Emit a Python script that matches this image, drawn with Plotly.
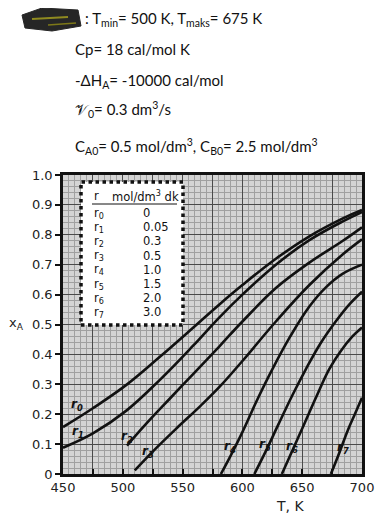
import plotly.graph_objects as go

# ---------------- data ----------------
T_r0 = [450, 475, 503, 531, 559, 581, 600, 628, 656, 684, 700]
x_r0 = [0.157, 0.22, 0.298, 0.392, 0.49, 0.568, 0.632, 0.72, 0.795, 0.855, 0.883]
T_r1 = [450, 475, 503, 531, 559, 581, 600, 628, 656, 684, 700]
x_r1 = [0.088, 0.136, 0.212, 0.315, 0.43, 0.525, 0.60, 0.70, 0.782, 0.845, 0.876]
T_r2 = [503.5, 520, 540, 559, 581, 600, 628, 656, 684, 700]
x_r2 = [0.095, 0.17, 0.255, 0.335, 0.428, 0.51, 0.622, 0.707, 0.78, 0.825]
T_r3 = [510, 525, 545, 565, 581, 600, 628, 656, 684, 700]
x_r3 = [0.012, 0.075, 0.153, 0.228, 0.292, 0.378, 0.51, 0.632, 0.735, 0.785]
T_r4 = [582, 590, 600, 612, 625, 640, 656, 670, 684, 700]
x_r4 = [0.0, 0.06, 0.14, 0.245, 0.35, 0.46, 0.56, 0.625, 0.67, 0.70]
T_r5 = [610, 620, 630, 642, 653, 665, 678, 690, 700]
x_r5 = [0.0, 0.08, 0.165, 0.265, 0.35, 0.435, 0.51, 0.57, 0.61]
T_r6 = [633, 642, 652, 662, 672.5, 682, 692, 700]
x_r6 = [0.0, 0.08, 0.17, 0.26, 0.35, 0.41, 0.46, 0.49]
T_r7 = [674, 680, 688, 694, 700]
x_r7 = [0.0, 0.06, 0.145, 0.2, 0.255]

curves = [(T_r0, x_r0), (T_r1, x_r1), (T_r2, x_r2), (T_r3, x_r3),
          (T_r4, x_r4), (T_r5, x_r5), (T_r6, x_r6), (T_r7, x_r7)]

legend_names = ["r<sub>0</sub>", "r<sub>1</sub>", "r<sub>2</sub>", "r<sub>3</sub>",
                "r<sub>4</sub>", "r<sub>5</sub>", "r<sub>6</sub>", "r<sub>7</sub>"]
legend_values = ["0", "0.05", "0.3", "0.5", "1.0", "1.5", "2.0", "3.0"]

x_ticks = [450, 475, 500, 525, 550, 575, 600, 625, 650, 675, 700]
x_ticktext = ["450", "", "500", "", "550", "", "600", "", "650", "", "700"]
y_ticks = [0, 0.1, 0.2, 0.3, 0.4, 0.5, 0.6, 0.7, 0.8, 0.9, 1.0]
y_ticktext = ["0", "0.1", "0.2", "0.3", "0.4", "0.5", "0.6", "0.7", "0.8", "0.9", "1.0"]

header_lines = [
    ": T<sub>min</sub>= 500 K, T<sub>maks</sub>= 675 K",
    "Cp= 18 cal/mol K",
    "-ΔH<sub>A</sub>= -10000 cal/mol",
    "𝒱<sub>0</sub>= 0.3 dm<sup>3</sup>/s",
    "C<sub>A0</sub>= 0.5 mol/dm<sup>3</sup>, C<sub>B0</sub>= 2.5 mol/dm<sup>3</sup>",
]

# ---------------- layout helpers (page pixel -> paper) ----------------
OFF = 8                      # default body margin of the html page
W, H = 391 - OFF, 518 - OFF
L, R, TOP, BOT = 63, 362, 175, 474   # plot area in page pixels
def px(x):
    return (x - L) / (R - L)
def py(y):
    return (BOT - y) / (BOT - TOP)

fig = go.Figure()
for T, xa in curves:
    fig.add_trace(go.Scatter(x=T, y=xa, mode="lines",
                             line=dict(color="#111111", width=2.6, shape="spline", smoothing=1.1),
                             hoverinfo="skip"))

tickfont = dict(family="DejaVu Sans", size=13, color="#222222")
fig.update_layout(
    width=W, height=H,
    margin=dict(l=L - OFF, r=391 - R, t=TOP - OFF, b=H - (BOT - OFF), pad=0),
    paper_bgcolor="white", plot_bgcolor="#d4d4d4",
    showlegend=False,
    xaxis=dict(range=[450, 700], tickvals=x_ticks, ticktext=x_ticktext,
               ticks="inside", ticklen=5, tickcolor="#111", tickwidth=1.5,
               showline=True, linecolor="#111", linewidth=2.5, mirror=True,
               showgrid=True, gridcolor="#4a4a4a", gridwidth=1, zeroline=False,
               minor=dict(dtick=5, tick0=450, showgrid=True, gridcolor="#a0a0a0", gridwidth=1),
               tickfont=tickfont),
    yaxis=dict(range=[0, 1], tickvals=y_ticks, ticktext=y_ticktext,
               ticks="outside", ticklen=5, tickcolor="#111", tickwidth=1.5,
               showline=True, linecolor="#111", linewidth=2.5, mirror=True,
               showgrid=True, gridcolor="#4a4a4a", gridwidth=1, zeroline=False,
               minor=dict(dtick=0.02, tick0=0, showgrid=True, gridcolor="#a0a0a0", gridwidth=1),
               tickfont=tickfont),
)

shapes = []
# legend box
shapes.append(dict(type="rect", xref="paper", yref="paper",
                   x0=px(81), x1=px(183), y0=py(325), y1=py(182),
                   fillcolor="white", line=dict(color="#111", width=3.5, dash="dot"),
                   layer="above"))
# header underline in legend
shapes.append(dict(type="line", xref="paper", yref="paper",
                   x0=px(92), x1=px(177), y0=py(204), y1=py(204),
                   line=dict(color="#111", width=1), layer="above"))
# redaction blob
shapes.append(dict(type="path", xref="paper", yref="paper",
                   path="M {} {} L {} {} L {} {} L {} {} L {} {} L {} {} Z".format(
                       px(22), py(15), px(42), py(8), px(78), py(10),
                       px(81), py(26), px(52), py(31), px(25), py(28)),
                   fillcolor="#262626", line=dict(color="#262626", width=1), layer="above"))
shapes.append(dict(type="line", xref="paper", yref="paper",
                   x0=px(32), x1=px(68), y0=py(19), y1=py(17),
                   line=dict(color="#8f8a20", width=2), layer="above"))
shapes.append(dict(type="line", xref="paper", yref="paper",
                   x0=px(48), x1=px(76), y0=py(25), y1=py(23),
                   line=dict(color="#7d7818", width=1.5), layer="above"))
fig.update_layout(shapes=shapes)

ann = []
hfont = dict(family="Lato", size=15, color="#111")
header_pos = [(83, 19), (73, 49), (73, 81), (73, 110), (73, 146)]
for text, (xp, yp) in zip(header_lines, header_pos):
    ann.append(dict(text=text, x=px(xp), y=py(yp), xref="paper", yref="paper",
                    xanchor="left", yanchor="middle", showarrow=False, font=hfont))

lfont = dict(family="DejaVu Sans", size=11.5, color="#111")
ann.append(dict(text="r", x=px(92), y=py(196), xref="paper", yref="paper",
                xanchor="left", yanchor="middle", showarrow=False, font=lfont))
ann.append(dict(text="mol/dm<sup>3</sup> dk", x=px(110), y=py(196), xref="paper", yref="paper",
                xanchor="left", yanchor="middle", showarrow=False, font=lfont))
for i, (nm, val) in enumerate(zip(legend_names, legend_values)):
    yp = 213 + i * 14.2
    ann.append(dict(text=nm, x=px(92), y=py(yp), xref="paper", yref="paper",
                    xanchor="left", yanchor="middle", showarrow=False, font=lfont))
    ann.append(dict(text=val, x=px(141), y=py(yp), xref="paper", yref="paper",
                    xanchor="left", yanchor="middle", showarrow=False, font=lfont))

# hand-written curve labels
cl_pos = [(77, 405), (78, 432), (127, 437), (148, 452), (230, 447), (265, 445), (292, 447), (343, 448)]
cfont = dict(family="DejaVu Sans", size=12, color="#111")
for nm, (xp, yp) in zip(legend_names, cl_pos):
    ann.append(dict(text="<b><i>" + nm + "</i></b>", x=px(xp), y=py(yp), xref="paper", yref="paper",
                    xanchor="center", yanchor="middle", showarrow=False, font=cfont))

# axis titles
ann.append(dict(text="x<sub>A</sub>", x=px(16), y=py(323), xref="paper", yref="paper",
                xanchor="center", yanchor="middle", showarrow=False,
                font=dict(family="DejaVu Sans", size=13, color="#222")))
ann.append(dict(text="T, K", x=px(290), y=py(506), xref="paper", yref="paper",
                xanchor="center", yanchor="middle", showarrow=False,
                font=dict(family="DejaVu Sans", size=14, color="#222")))
fig.update_layout(annotations=ann)

fig.write_html("out.html")
